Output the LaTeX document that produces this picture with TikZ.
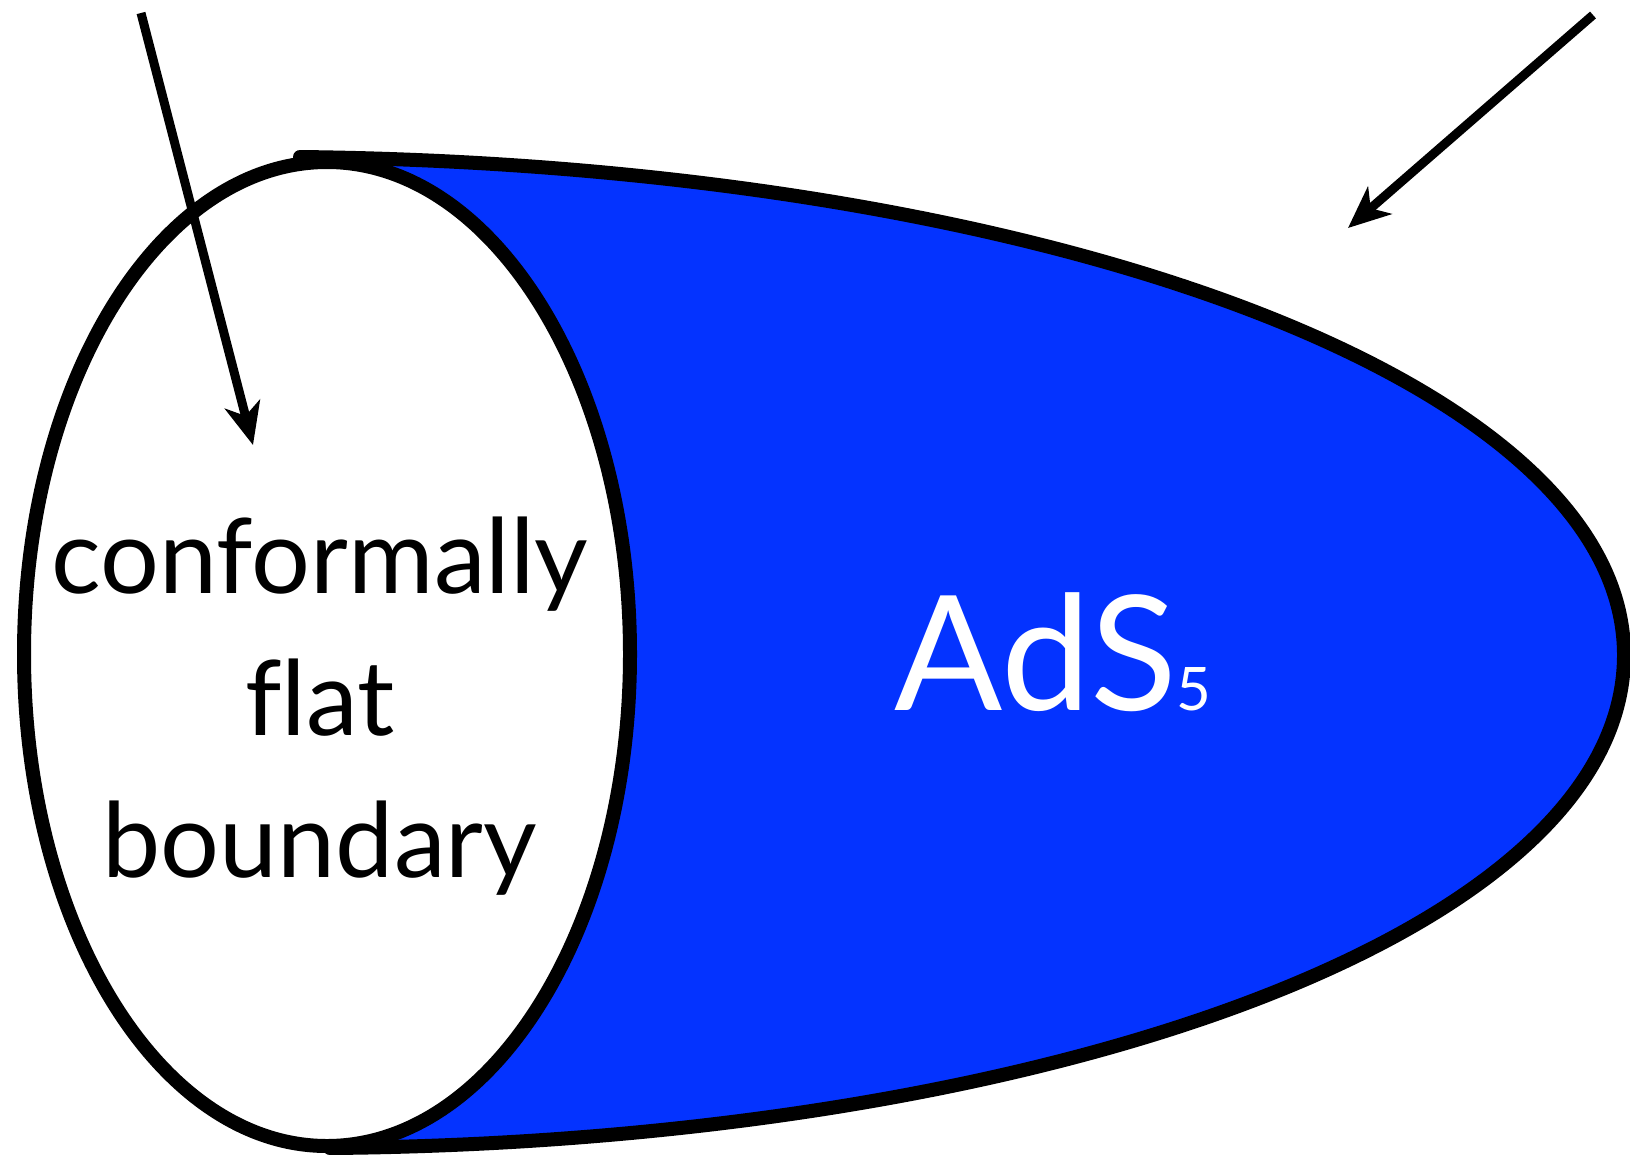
\documentclass[tikz,border=0pt]{standalone}
\usepackage{fontspec}
\setsansfont{Lato}[Ligatures=NoCommon]
\usetikzlibrary{arrows.meta, positioning}
\definecolor{adsblue}{HTML}{0433FF}
\tikzset{
  every picture/.style={font=\sffamily, line width=14pt, x=1pt, y=-1pt},
  pointer/.style={-{Stealth[length=42pt, width=36pt, inset=12pt]}, line width=9pt},
  bigtext/.style={font=\sffamily\fontsize{104}{104}\selectfont, anchor=base, inner sep=0pt},
  bulktext/.style={font=\sffamily\fontsize{160}{160}\selectfont, text=white, anchor=base, inner sep=0pt},
}

\begin{document}
\begin{tikzpicture}
  \useasboundingbox (0,0) rectangle (1630,1154);
  % bulk region
  \fill[adsblue] (300,157) .. controls (1040,165) and (1624,380) .. (1624,655)
    .. controls (1624,935) and (1040,1142) .. (330,1148) -- (327,654) -- cycle;
  \draw[line cap=round] (300,157) .. controls (1040,165) and (1624,380) .. (1624,655)
    .. controls (1624,935) and (1040,1142) .. (330,1148);
  % boundary disk
  \draw[fill=white] (327,654) ellipse [x radius=303, y radius=492];
  \node[bigtext] (conf) at (320,593) {conformally};
  \node[bigtext] (flat) at (320,735) {flat};
  \node[bigtext] (bdry) at (320,877) {boundary};
  \node[bulktext] (ads) at (1053,710) {AdS{\fontsize{60}{60}\selectfont 5}};
  % pointers
  \coordinate (lefttail) at (141,13);
  \coordinate (lefthead) at (253,445);
  \coordinate (righttail) at (1593,15);
  \coordinate (righthead) at (1348,228);
  \draw[pointer] (lefttail) -- (lefthead);
  \draw[pointer] (righttail) -- (righthead);
\end{tikzpicture}
\end{document}
